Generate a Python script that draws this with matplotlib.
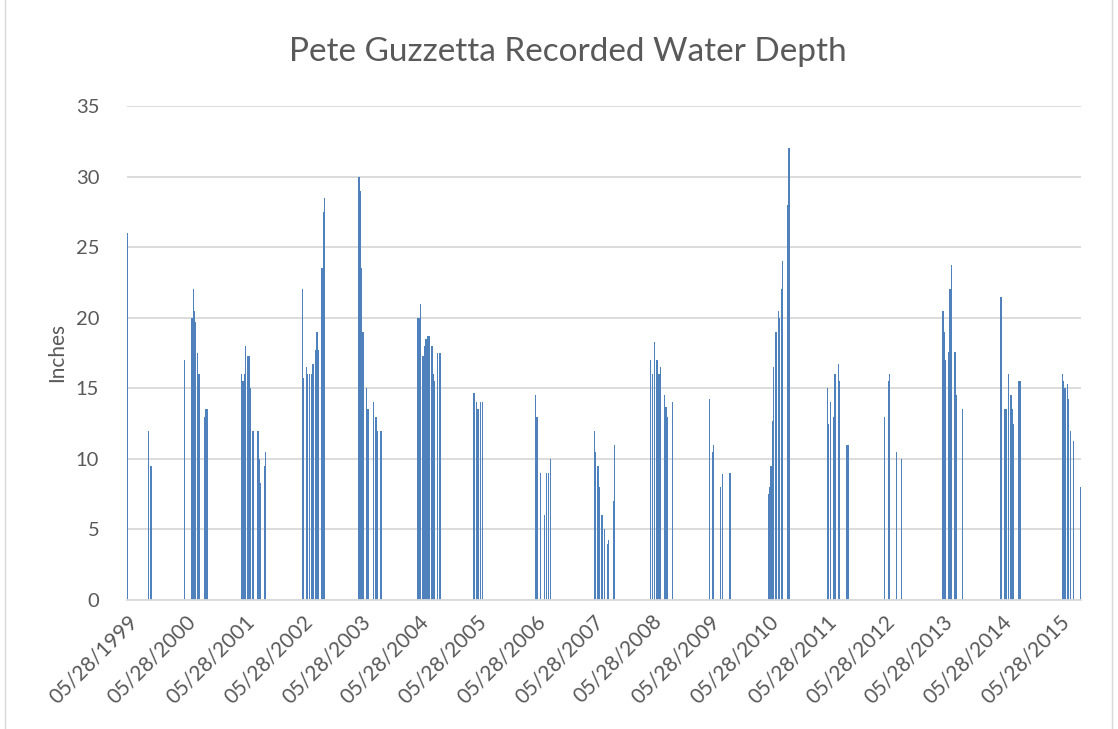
import pandas as pd
import matplotlib
matplotlib.use("Agg")
import matplotlib.pyplot as plt
import matplotlib.dates as mdates

# =============================
# DATOS
# =============================
fechas = [
    "05/28/1999", "10/07/1999", "10/23/1999",
    "05/20/2000", "07/02/2000", "07/08/2000", "07/15/2000", "07/21/2000", "07/29/2000",
    "08/07/2000", "08/15/2000", "08/23/2000", "09/22/2000", "09/30/2000", "10/08/2000",
    "05/11/2001", "05/21/2001", "05/30/2001", "06/05/2001", "06/22/2001", "06/30/2001",
    "07/06/2001", "07/23/2001", "08/23/2001", "08/31/2001", "09/09/2001", "10/04/2001",
    "10/12/2001",
    "05/31/2002", "06/06/2002", "06/25/2002", "07/02/2002", "07/12/2002", "07/27/2002",
    "08/04/2002", "08/21/2002", "08/29/2002", "09/06/2002", "09/30/2002", "10/08/2002",
    "10/16/2002",
    "05/19/2003", "05/27/2003", "06/04/2003", "06/13/2003", "07/07/2003", "07/14/2003",
    "08/17/2003", "09/02/2003", "09/10/2003", "10/04/2003",
    "05/23/2004", "05/31/2004", "06/08/2004", "06/23/2004", "07/04/2004", "07/12/2004",
    "07/25/2004", "08/04/2004", "08/19/2004", "08/27/2004", "09/04/2004", "09/21/2004",
    "10/08/2004",
    "05/10/2005", "05/27/2005", "06/04/2005", "06/21/2005", "06/30/2005",
    "05/31/2006", "06/08/2006", "06/14/2006", "07/01/2006", "07/28/2006", "08/06/2006",
    "08/20/2006", "08/31/2006",
    "06/04/2007", "06/10/2007", "06/27/2007", "07/05/2007", "07/22/2007", "08/06/2007",
    "08/24/2007", "09/02/2007", "10/03/2007", "10/09/2007",
    "05/22/2008", "05/31/2008", "06/14/2008", "07/01/2008", "07/07/2008", "07/16/2008",
    "07/24/2008", "08/18/2008", "08/26/2008", "09/03/2008", "10/05/2008",
    "05/25/2009", "06/12/2009", "06/20/2009", "08/05/2009", "08/14/2009", "10/01/2009",
    "05/30/2010", "06/08/2010", "06/16/2010", "06/24/2010", "07/01/2010", "07/17/2010",
    "08/01/2010", "08/09/2010", "08/20/2010", "08/26/2010", "09/28/2010", "10/07/2010",
    "06/03/2011", "06/10/2011", "06/26/2011", "07/13/2011", "07/22/2011", "08/11/2011",
    "08/20/2011", "10/02/2011", "10/11/2011",
    "05/28/2012", "06/22/2012", "06/30/2012", "08/09/2012", "09/10/2012",
    "05/30/2013", "06/07/2013", "06/15/2013", "07/02/2013", "07/13/2013", "07/21/2013",
    "08/13/2013", "08/20/2013", "09/30/2013",
    "05/28/2014", "06/20/2014", "06/28/2014", "07/15/2014", "07/30/2014", "08/07/2014",
    "08/15/2014", "09/18/2014", "09/26/2014",
    "06/18/2015", "06/26/2015", "07/04/2015", "07/19/2015", "07/27/2015", "08/05/2015",
    "08/28/2015", "10/09/2015",
]

profundidad = [
    26, 12, 9.5,
    17, 20, 20, 22, 20.5, 19.7,
    17.5, 16, 16, 13, 13.5, 13.5,
    16, 15.5, 16, 18, 17.3, 17.3,
    15, 12, 12, 10, 8.3, 9.5,
    10.5,
    22, 15.7, 16.5, 16, 16, 16,
    16.7, 17.7, 19, 17.7, 23.5, 27.5,
    28.5,
    30, 29, 23.5, 19, 15, 13.5,
    14, 13, 12, 12,
    20, 20, 21, 17.3, 18, 18.5,
    18.7, 18.7, 18, 16, 15.5, 17.5,
    17.5,
    14.7, 14, 13.5, 14, 14,
    14.5, 13, 11, 9, 6, 9,
    9, 10,
    12, 10.5, 9.5, 8, 6, 5,
    4, 4.25, 7, 11,
    17, 16, 18.3, 17, 16, 16,
    16.5, 14.5, 13.7, 13, 14,
    14.25, 10.5, 11, 8, 8.9, 9,
    7.5, 8, 9.5, 12.7, 16.5, 19,
    20.5, 20, 22, 24, 28, 32,
    15, 12.5, 14, 13, 16, 16.7,
    15.5, 11, 11,
    13, 15.5, 16, 10.5, 10,
    20.5, 19, 17, 17.55, 22, 23.7,
    17.55, 14.5, 13.5,
    21.5, 13.5, 13.5, 16, 14.5, 13.5,
    12.5, 15.5, 15.5,
    16, 15.5, 15, 15.3, 14.25, 12,
    11.25, 8,
]

etiquetas_x = [
    "05/28/1999", "05/28/2000", "05/28/2001", "05/28/2002", "05/28/2003",
    "05/28/2004", "05/28/2005", "05/28/2006", "05/28/2007", "05/28/2008",
    "05/28/2009", "05/28/2010", "05/28/2011", "05/28/2012", "05/28/2013",
    "05/28/2014", "05/28/2015",
]

valores_y = [0, 5, 10, 15, 20, 25, 30, 35]

# =============================
# GRAFICA
# =============================
plt.rcParams["font.family"] = ["Lato", "DejaVu Sans"]
gris = "#595959"

x = mdates.date2num(pd.to_datetime(fechas, format="%m/%d/%Y"))
x_ticks = mdates.date2num(pd.to_datetime(etiquetas_x, format="%m/%d/%Y"))

fig = plt.figure(figsize=(11.18, 7.29), dpi=100)
ax = fig.add_axes([127 / 1118, 1 - 600 / 729, (1081 - 127) / 1118, (600 - 106) / 729])

ax.bar(x, profundidad, width=8, color="#4F81BD", linewidth=0, zorder=3)

ax.set_xlim(x[0] - 3, x[-1] + 3)
ax.set_ylim(0, 35)
ax.set_yticks(valores_y)
ax.set_xticks(x_ticks)
ax.set_xticklabels(etiquetas_x, rotation=45, ha="right", va="top",
                   rotation_mode="anchor", fontsize=15, color=gris)
ax.tick_params(axis="x", length=0, pad=8)
ax.tick_params(axis="y", length=0, pad=20, labelsize=14.5, labelcolor=gris)

ax.grid(axis="y", color="#D9D9D9", linewidth=1.3, zorder=0)
for lado in ["left", "right", "top"]:
    ax.spines[lado].set_visible(False)
ax.spines["bottom"].set_color("#D9D9D9")
ax.spines["bottom"].set_linewidth(1.3)
ax.spines["bottom"].set_zorder(4)

fig.text(568 / 1118, 1 - 52 / 729, "Pete Guzzetta Recorded Water Depth",
         ha="center", va="center", fontsize=24, color=gris)
fig.text(57 / 1118, 1 - 352 / 729, "Inches", rotation=90,
         ha="center", va="center", fontsize=15, color=gris)

# borde del area de la grafica
fig.add_artist(plt.Line2D([5 / 1118, 5 / 1118], [0, 1], color="#D9D9D9", linewidth=1))
fig.add_artist(plt.Line2D([1112 / 1118, 1112 / 1118], [0, 1], color="#D9D9D9", linewidth=1))

plt.savefig("out.png", dpi=100)
print("out.png generado")
